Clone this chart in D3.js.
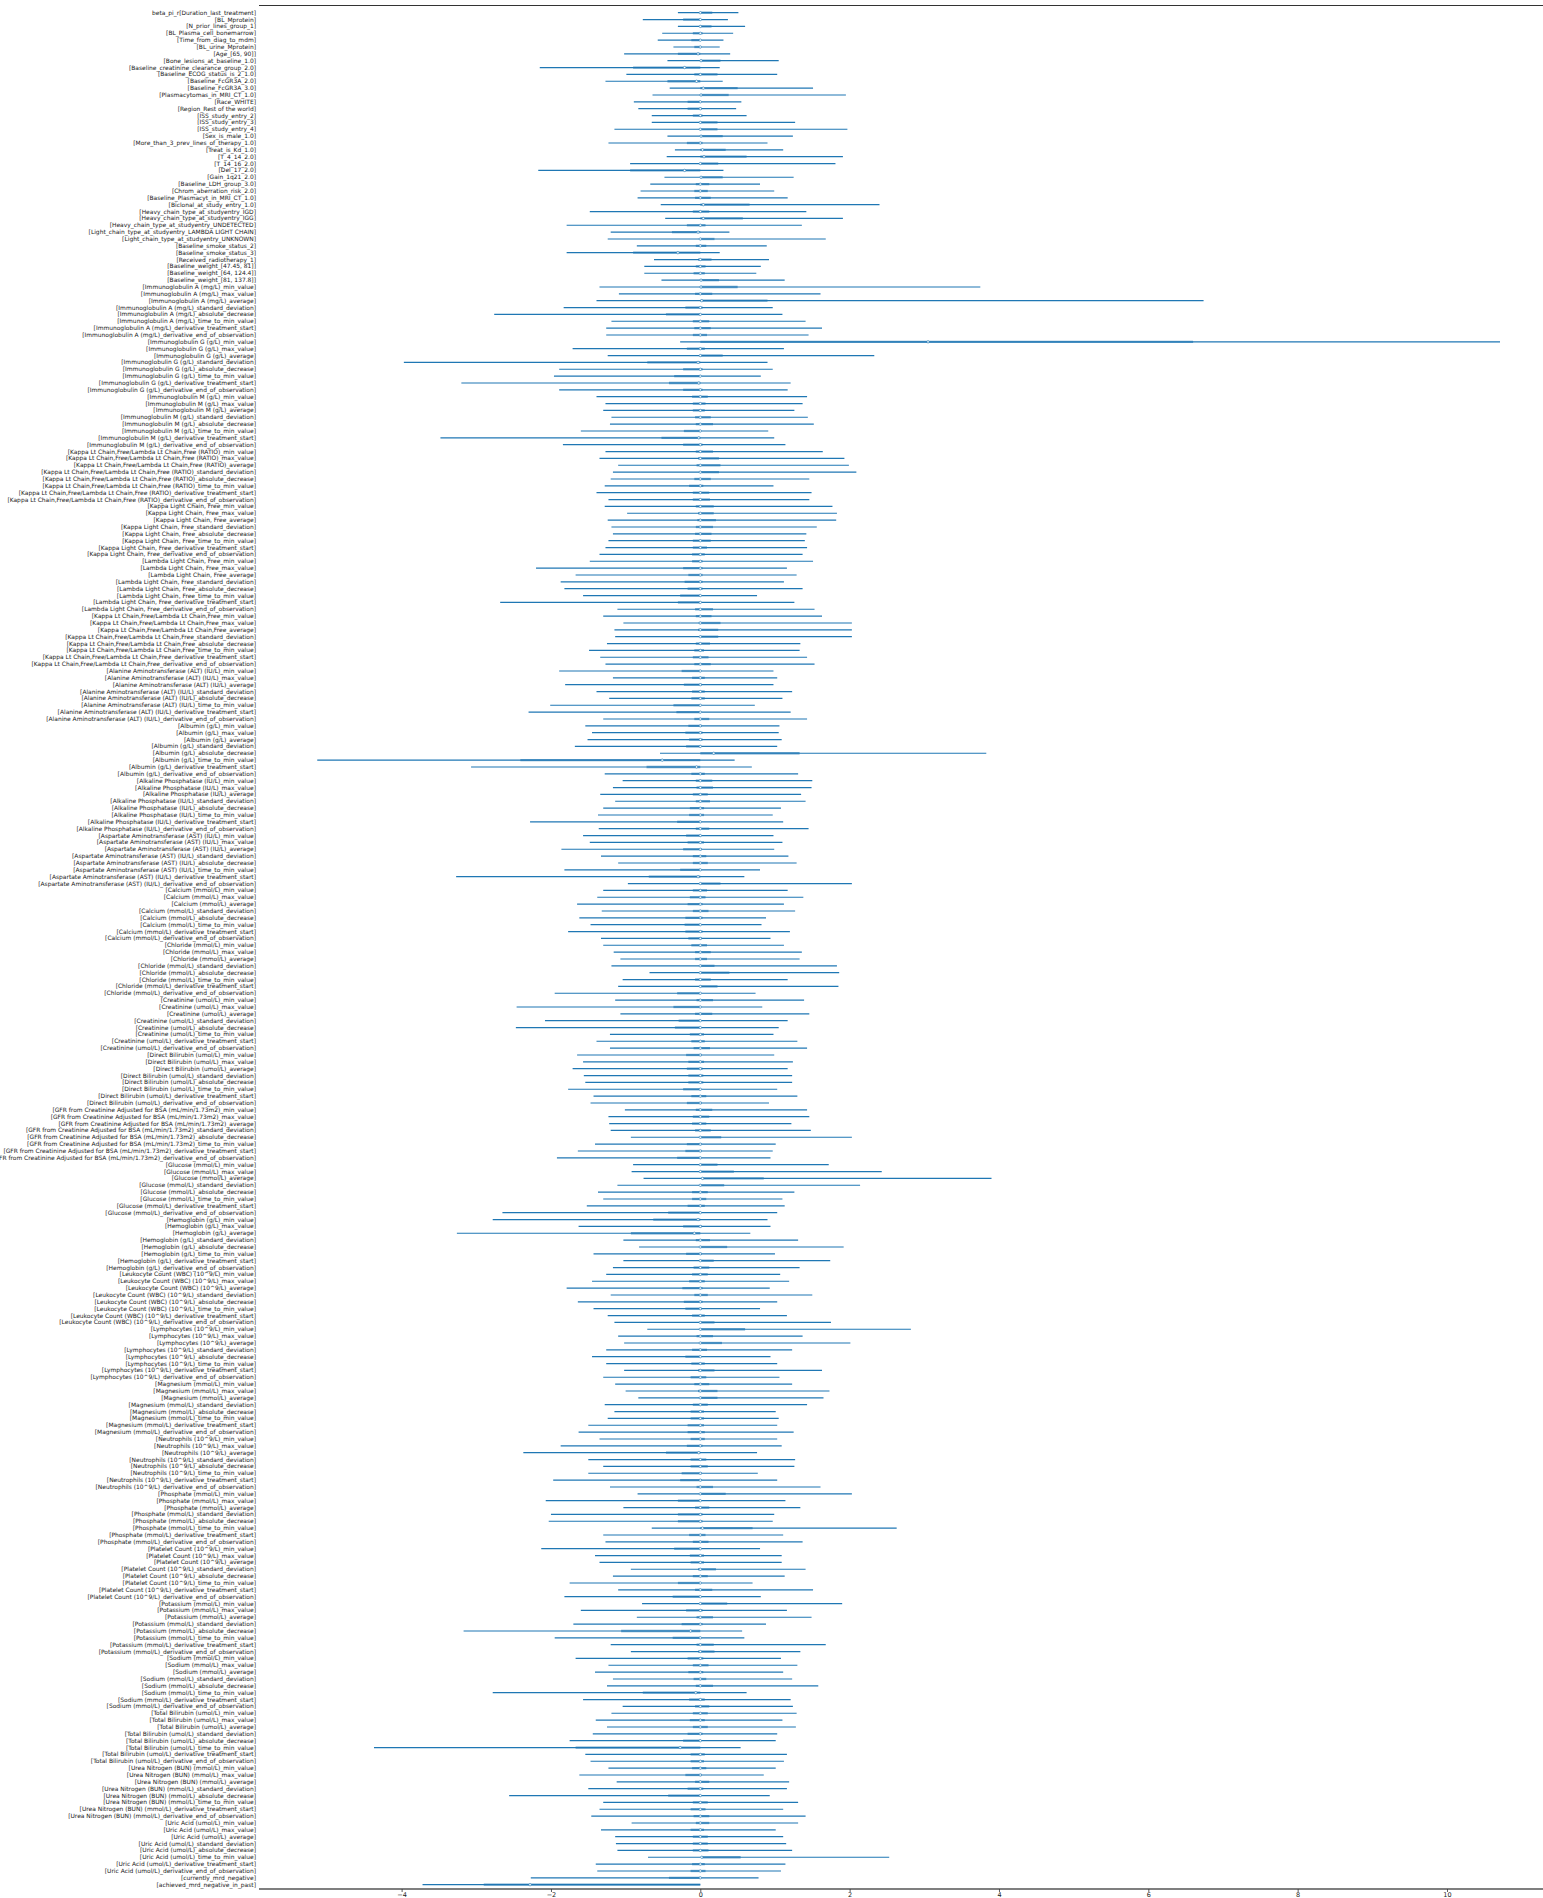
<!DOCTYPE html>
<html><head><meta charset="utf-8">
<script src="https://cdn.jsdelivr.net/npm/d3@7"></script>
<style>body{margin:0;background:#fff}svg{display:block}</style>
</head><body>
<script>
// ---- categories ----
const firstLabel = "beta_pi_r[Duration_last_treatment]";
const baselineNames = ["BL_Mprotein","N_prior_lines_group_1","BL_Plasma_cell_bonemarrow","Time_from_diag_to_mdm","BL_urine_Mprotein","Age_[65, 90]","Bone_lesions_at_baseline_1.0","Baseline_creatinine_clearance_group_2.0","Baseline_ECOG_status_is_2_1.0","Baseline_FcGR3A_2.0","Baseline_FcGR3A_3.0","Plasmacytomas_in_MRI_CT_1.0","Race_WHITE","Region_Rest of the world","ISS_study_entry_2","ISS_study_entry_3","ISS_study_entry_4","Sex_is_male_1.0","More_than_3_prev_lines_of_therapy_1.0","Treat_is_Kd_1.0","T_4_14_2.0","T_14_16_2.0","Del_17_2.0","Gain_1q21_2.0","Baseline_LDH_group_3.0","Chrom_aberration_risk_2.0","Baseline_Plasmacyt_in_MRI_CT_1.0","Biclonal_at_study_entry_1.0","Heavy_chain_type_at_studyentry_IGD","Heavy_chain_type_at_studyentry_IGG","Heavy_chain_type_at_studyentry_UNDETECTED","Light_chain_type_at_studyentry_LAMBDA LIGHT CHAIN","Light_chain_type_at_studyentry_UNKNOWN","Baseline_smoke_status_2","Baseline_smoke_status_3","Received_radiotherapy_1","Baseline_weight_[47.45, 81]","Baseline_weight_[64, 124.4]","Baseline_weight_[81, 137.8]"];
const labNames = ["Immunoglobulin A (mg/L)","Immunoglobulin G (g/L)","Immunoglobulin M (g/L)","Kappa Lt Chain,Free/Lambda Lt Chain,Free (RATIO)","Kappa Light Chain, Free","Lambda Light Chain, Free","Kappa Lt Chain,Free/Lambda Lt Chain,Free","Alanine Aminotransferase (ALT) (IU/L)","Albumin (g/L)","Alkaline Phosphatase (IU/L)","Aspartate Aminotransferase (AST) (IU/L)","Calcium (mmol/L)","Chloride (mmol/L)","Creatinine (umol/L)","Direct Bilirubin (umol/L)","GFR from Creatinine Adjusted for BSA (mL/min/1.73m2)","Glucose (mmol/L)","Hemoglobin (g/L)","Leukocyte Count (WBC) (10^9/L)","Lymphocytes (10^9/L)","Magnesium (mmol/L)","Neutrophils (10^9/L)","Phosphate (mmol/L)","Platelet Count (10^9/L)","Potassium (mmol/L)","Sodium (mmol/L)","Total Bilirubin (umol/L)","Urea Nitrogen (BUN) (mmol/L)","Uric Acid (umol/L)"];
const labSuffixes = ["min_value","max_value","average","standard_deviation","absolute_decrease","time_to_min_value","derivative_treatment_start","derivative_end_of_observation"];
const lastNames = ["currently_mrd_negative","achieved_mrd_negative_in_past"];
const tickValues = [-4,-2,0,2,4,6,8,10];

// ---- values (row order top to bottom) ----
const hdiLow = [-0.30,-0.77,-0.30,-0.51,-0.57,-0.36,-1.02,-0.44,-2.15,-0.99,-1.27,-0.41,-0.64,-0.89,-0.83,-0.65,-0.65,-1.15,-0.44,-1.23,-0.34,-0.45,-0.94,-2.17,-0.48,-0.67,-0.80,-0.84,-0.53,-1.48,-0.47,-1.79,-1.20,-1.24,-0.85,-1.79,-0.62,-0.75,-0.75,-0.52,
-1.35,-1.09,-1.39,-1.83,-2.76,-1.19,-1.26,-1.26,-0.27,-1.71,-1.24,-3.97,-1.89,-1.96,-3.20,-1.89,-1.39,-1.27,-1.30,-1.19,-1.21,-1.60,-3.48,-1.84,-1.27,-1.35,-1.10,-1.17,-1.20,-1.28,-1.39,-1.23,-1.28,-0.98,-1.24,-1.19,-1.17,-1.23,-1.27,-1.35,-1.48,-2.20,-1.67,-1.87,-1.82,-1.57,-2.68,-1.11,-1.30,-1.03,-1.15,-1.14,-1.25,-1.49,-1.34,-1.27,
-1.89,-1.17,-1.81,-1.39,-1.22,-2.01,-2.30,-1.30,-1.54,-1.45,-1.51,-1.68,-0.54,-5.13,-3.07,-1.28,-1.04,-1.17,-1.34,-1.14,-1.30,-1.37,-2.28,-1.36,-1.57,-1.48,-1.86,-1.33,-1.10,-1.82,-3.27,-0.97,-1.30,-1.38,-1.65,-1.32,-1.62,-1.47,-1.77,-1.33,-1.30,-1.16,-1.07,-1.19,-0.68,-1.04,-1.10,-1.95,-1.14,-2.46,-1.07,-2.08,-2.47,-1.21,-1.39,-1.21,-1.65,-1.57,-1.71,-1.56,-1.54,-1.77,-1.43,-1.47,
-1.01,-1.23,-1.22,-1.20,-0.93,-1.41,-1.64,-1.92,-0.90,-0.92,-0.76,-1.11,-1.37,-1.30,-1.52,-2.65,-2.78,-1.63,-3.26,-1.03,-0.82,-1.43,-1.03,-1.17,-1.26,-1.45,-1.79,-1.20,-1.64,-1.43,-1.24,-1.15,-0.71,-1.10,-1.02,-1.26,-1.45,-1.26,-1.02,-1.30,-1.14,-1.00,-0.83,-1.28,-1.15,-1.24,-1.50,-1.63,-1.35,-1.87,-2.37,-1.50,-1.30,-1.50,-1.97,-1.21,
-0.84,-2.07,-1.03,-2.00,-2.03,-0.65,-1.30,-1.27,-2.13,-1.41,-1.35,-0.93,-1.17,-1.75,-1.10,-1.82,-0.78,-1.60,-0.85,-1.70,-3.17,-1.95,-1.20,-0.93,-1.67,-1.23,-1.41,-1.17,-1.25,-2.78,-1.57,-1.04,-1.19,-1.40,-1.25,-1.44,-1.75,-4.37,-1.54,-1.47,-1.23,-1.62,-1.12,-1.50,-2.56,-1.30,-1.35,-1.46,-0.92,-1.33,-1.14,-1.13,-1.11,-0.70,-1.40,-1.38,-2.27,-3.72];
const hdiHigh = [0.51,0.37,0.60,0.44,0.31,0.26,0.40,1.05,0.26,1.03,0.30,1.51,1.95,0.55,0.48,0.62,1.27,1.97,1.24,0.90,1.11,1.91,1.81,0.31,1.25,0.80,0.99,1.17,2.40,1.42,1.91,1.36,0.39,1.68,0.89,0.26,0.92,0.81,0.75,1.13,
3.75,1.61,6.74,0.97,1.10,1.41,1.63,1.45,10.71,1.12,2.33,0.90,0.97,0.81,1.21,1.17,1.43,1.37,1.26,1.44,1.52,0.91,0.99,1.14,1.64,1.93,1.99,2.09,1.46,0.98,1.49,1.46,1.77,1.83,1.82,1.56,1.42,1.40,1.43,1.37,1.51,1.16,1.29,1.12,1.37,0.76,1.26,1.53,1.63,2.03,2.03,2.03,1.34,1.33,1.43,1.53,
0.98,1.03,0.98,1.23,1.10,0.73,1.21,1.43,1.06,1.05,1.09,1.03,3.83,0.46,0.69,1.31,1.50,1.49,1.35,1.41,1.08,0.97,1.11,1.45,0.98,1.10,0.99,1.18,1.29,0.80,0.59,2.03,1.17,1.38,1.12,1.27,0.88,0.82,1.20,0.94,1.12,1.36,1.33,1.83,1.86,1.17,1.85,0.74,1.39,0.83,1.46,1.17,1.05,0.98,1.30,1.43,0.99,1.24,1.17,1.23,1.23,1.03,1.30,0.92,
1.43,1.46,1.22,1.48,2.03,1.01,0.97,0.94,1.72,2.43,3.90,2.14,1.26,1.10,1.13,1.03,0.90,0.94,0.67,1.31,1.92,1.00,1.74,1.33,1.07,1.19,0.93,1.50,1.03,0.80,1.16,1.75,2.82,1.37,2.01,1.23,0.94,1.03,1.63,1.06,1.23,1.73,1.65,1.43,1.01,1.05,1.03,1.25,1.03,1.09,0.76,1.27,1.26,0.77,1.03,1.61,
2.03,1.14,1.34,0.99,0.97,2.63,1.11,1.37,0.80,1.09,1.09,1.41,1.13,0.70,1.51,0.81,1.90,1.16,1.49,0.88,0.56,0.59,1.68,1.34,1.08,1.30,1.11,1.23,1.58,0.62,1.21,1.24,1.29,1.10,1.28,1.03,1.01,0.54,1.16,1.12,1.01,0.85,1.19,1.16,0.93,1.31,1.11,1.41,1.31,1.01,1.11,1.15,1.23,2.53,1.14,1.08,0.78,0.00];
const iqrLow = [0,-0.23,0,-0.10,-0.12,-0.08,-0.30,0,-0.90,-0.08,-0.44,0,0,-0.17,-0.17,-0.10,0,0,0,-0.18,0,0,0,-0.94,0,-0.06,-0.08,-0.07,0,-0.10,0,-0.18,-0.38,0,-0.06,-0.90,-0.03,-0.06,-0.09,0,
0,-0.07,0,-0.20,-0.46,-0.10,-0.08,-0.10,0,-0.18,0,-0.71,-0.23,-0.35,-0.42,-0.23,-0.11,-0.10,-0.10,-0.07,-0.06,-0.22,-0.52,-0.23,-0.06,-0.03,-0.05,0,-0.08,-0.15,-0.10,-0.10,-0.06,-0.03,-0.04,-0.06,-0.07,-0.10,-0.10,-0.11,-0.11,-0.23,-0.16,-0.21,-0.17,-0.27,-0.30,-0.07,-0.06,-0.02,-0.03,0,-0.06,-0.08,-0.10,-0.08,
-0.25,-0.11,-0.22,-0.11,-0.12,-0.36,-0.32,-0.08,-0.16,-0.20,-0.15,-0.19,0,-2.41,-0.72,-0.12,-0.06,-0.05,-0.10,-0.06,-0.14,-0.15,-0.31,-0.06,-0.19,-0.17,-0.23,-0.10,-0.10,-0.27,-0.69,0,-0.10,-0.14,-0.17,-0.10,-0.20,-0.21,-0.20,-0.16,-0.12,-0.07,-0.07,0,0,-0.07,0,-0.31,-0.05,-0.36,-0.07,-0.29,-0.34,-0.14,-0.12,-0.09,-0.19,-0.16,-0.18,-0.16,-0.16,-0.23,-0.12,-0.18,
-0.06,-0.10,-0.11,-0.07,0,-0.18,-0.20,-0.31,0,0,0.02,0,-0.11,-0.11,-0.17,-0.43,-0.63,-0.23,-0.93,-0.06,0,-0.19,0,-0.09,-0.11,-0.15,-0.24,-0.08,-0.22,-0.20,-0.11,0,0,-0.05,0,-0.11,-0.20,-0.12,-0.03,-0.13,-0.08,-0.03,0,-0.10,-0.13,-0.13,-0.17,-0.17,-0.13,-0.18,-0.46,-0.13,-0.13,-0.25,-0.27,-0.05,
0,-0.30,-0.07,-0.30,-0.30,0,-0.15,-0.10,-0.35,-0.14,-0.13,-0.03,-0.10,-0.30,-0.07,-0.37,0,-0.19,-0.05,-0.25,-1.06,-0.37,-0.05,-0.03,-0.17,-0.10,-0.16,-0.09,-0.06,-0.77,-0.15,-0.07,-0.10,-0.14,-0.10,-0.17,-0.23,-1.67,-0.13,-0.13,-0.11,-0.20,-0.07,-0.17,-0.43,-0.10,-0.13,-0.09,-0.06,-0.13,-0.10,-0.10,-0.10,0.02,-0.11,-0.13,-0.42,-2.90];
const iqrHigh = [0.16,0,0.15,0.03,0,0.01,0,0.27,0,0.23,0,0.50,0.38,0,0.02,0.03,0.23,0.23,0.30,0.03,0.34,0.62,0.24,0,0.30,0.12,0.10,0.14,0.66,0.12,0.57,0.07,0,0.19,0.08,0,0.15,0.07,0.06,0.25,
0.50,0.16,0.90,0.03,0,0.12,0.14,0.09,6.60,0.06,0.30,0,0.03,0,0,0.03,0.10,0.07,0.06,0.14,0.17,0,0,0.03,0.17,0.25,0.27,0.25,0.14,0.04,0.12,0.13,0.18,0.18,0.21,0.17,0.15,0.14,0.09,0.06,0.03,0.03,0.03,0.03,0.03,0,0,0.17,0.15,0.27,0.24,0.24,0.13,0.05,0.11,0.14,
0,0.06,0.02,0.06,0.06,0,0,0.12,0.02,0.03,0.03,0.01,1.33,0,0,0.06,0.16,0.17,0.10,0.13,0.05,0.05,0,0.12,0.01,0.05,0.02,0.08,0.10,0,0,0.27,0.09,0.07,0.03,0.11,0.03,0,0.03,0.02,0.09,0.14,0.09,0.19,0.39,0.14,0.23,0,0.17,0,0.16,0,0,0.05,0.06,0.13,0.02,0.05,0.03,0.04,0.04,0,0.08,0.02,
0.16,0.12,0.08,0.14,0.28,0.02,0.02,0,0.23,0.45,0.85,0.32,0.10,0.08,0.06,0,0,0.02,0,0.13,0.36,0.02,0.18,0.12,0.10,0.06,0.03,0.10,0.03,0.02,0.06,0.19,0.60,0.17,0.29,0.09,0,0.06,0.19,0.08,0.12,0.23,0.23,0.10,0.05,0.05,0.05,0.06,0.06,0.03,0,0.08,0.10,0.02,0.02,0.17,
0.34,0,0.12,0.03,0.03,0.70,0.07,0.11,0,0.05,0.05,0.21,0.10,0,0.16,0,0.36,0.03,0.17,0.03,0,0,0.18,0.19,0.04,0.11,0.04,0.08,0.17,0,0.06,0.12,0.10,0.06,0.10,0.03,0.01,0,0.06,0.05,0.08,0.02,0.12,0.04,0,0.10,0.07,0.12,0.12,0.05,0.10,0.10,0.11,0.54,0.06,0.07,0,0];
const medians = [0,0,0,0,0,0,-0.03,0.01,-0.21,0,-0.05,0.04,0.01,0,0,0,0,0,0.01,0,0.03,0.05,0,-0.21,0.01,0,0,0,0.04,0,0.04,0,-0.03,0,0,-0.30,0,0,0,0.01,
0.01,0,0.02,0,0,0,0,0,3.05,0,0,-0.03,0,0,-0.02,0,0,0,0,0,0,0,-0.02,0,0,0,0,0,0,0,0,0,0,0,0,0,0,0,0,0,0,0,0,0,0,0,0,0,0,0,0,0,0,0,0,0,
0,0,0,0,0,0,0,0,0,0,0,0,0.18,-0.51,-0.05,0,0,0,0,0,0,0,0,0,0,0,0,0,0,0,-0.03,0,0,0,0,0,0,0,0,0,0,0,0,0,0,0,0,0,0,0,0,0,0,0,0,0,0,0,0,0,0,0,0,0,
0,0,0,0,0,0,0,0,0,0,0.03,0,0,0,0,0,-0.03,0,-0.08,0,0,0,0,0,0,0,0,0,0,0,0,0,0,0,0,0,0,0,0,0,0,0,0,0,0,0,0,0,0,0,-0.02,0,0,0,0,0,
0,0,0,0,0,0.03,0,0,0,0,0,0,0,0,0,0,0,0,0,0,-0.13,0,0,0,0,0,0,0,0,-0.06,0,0,0,0,0,0,0,-0.27,0,0,0,0,0,0,0,0,0,0,0,0,0,0,0,0.02,0,0,0,-2.28];

// ---- build labels ----
const labels = [firstLabel]
  .concat(baselineNames.map(d => "[" + d + "]"))
  .concat(labNames.flatMap(n => labSuffixes.map(s => "[" + n + "_" + s + "]")))
  .concat(lastNames.map(d => "[" + d + "]"));
const rows = labels.map((lab, i) => ({lab, lo: hdiLow[i], hi: hdiHigh[i], qlo: iqrLow[i], qhi: iqrHigh[i], m: medians[i]}));

const W = 1543, H = 1898;
const C0 = "#1f77b4";
const svg = d3.select("body").append("svg").attr("width", W).attr("height", H);

const x = d3.scaleLinear().domain([-5.91, 11.5]).range([259, 1559]);
const y = d3.scalePoint().domain(labels).range([12.7, 1884.7]);

// top spine
svg.append("line").attr("x1", 259).attr("x2", W).attr("y1", 5.5).attr("y2", 5.5)
  .attr("stroke", "#333").attr("stroke-width", 1.2);

const g = svg.append("g");
const rowG = g.selectAll("g.row").data(rows).join("g").attr("class", "row");
rowG.append("line")
  .attr("x1", d => x(d.lo)).attr("x2", d => x(d.hi))
  .attr("y1", d => y(d.lab)).attr("y2", d => y(d.lab))
  .attr("stroke", C0).attr("stroke-width", 1.2);
rowG.append("line")
  .attr("x1", d => x(d.qlo)).attr("x2", d => x(d.qhi))
  .attr("y1", d => y(d.lab)).attr("y2", d => y(d.lab))
  .attr("stroke", C0).attr("stroke-width", 2.3).attr("stroke-opacity", 0.65);
rowG.append("circle")
  .attr("cx", d => x(d.m)).attr("cy", d => y(d.lab)).attr("r", 1.2)
  .attr("fill", "#fff").attr("stroke", C0).attr("stroke-width", 0.6);

// y labels
const fontFam = "DejaVu Sans, sans-serif";
const probe = svg.append("text").attr("font-family", fontFam).attr("font-size", 10)
  .text("[Kappa Lt Chain,Free/Lambda Lt Chain,Free (RATIO)_derivative_end_of_observation]");
const fs = 10 * 249 / probe.node().getComputedTextLength();
probe.remove();

svg.append("g").selectAll("text").data(labels).join("text")
  .attr("x", 256).attr("y", d => y(d)).attr("dy", "0.35em")
  .attr("text-anchor", "end").attr("font-family", fontFam).attr("font-size", fs)
  .attr("fill", "#222").text(d => d);

// bottom axis
const axisG = svg.append("g").attr("transform", "translate(0,1889)")
  .call(d3.axisBottom(x).tickValues(tickValues).tickSize(3).tickSizeOuter(0)
    .tickFormat(d => d3.format("d")(d).replace("-", "\u2212")));
axisG.select(".domain").attr("stroke", "#555").attr("stroke-width", 1.6)
  .attr("d", `M259,0H${W}`);
axisG.selectAll(".tick line").attr("stroke", "#333").attr("stroke-width", 0.8);
axisG.selectAll(".tick text").attr("font-family", fontFam).attr("font-size", 6.5)
  .attr("fill", "#222").attr("y", 3.5);
</script>
</body></html>
